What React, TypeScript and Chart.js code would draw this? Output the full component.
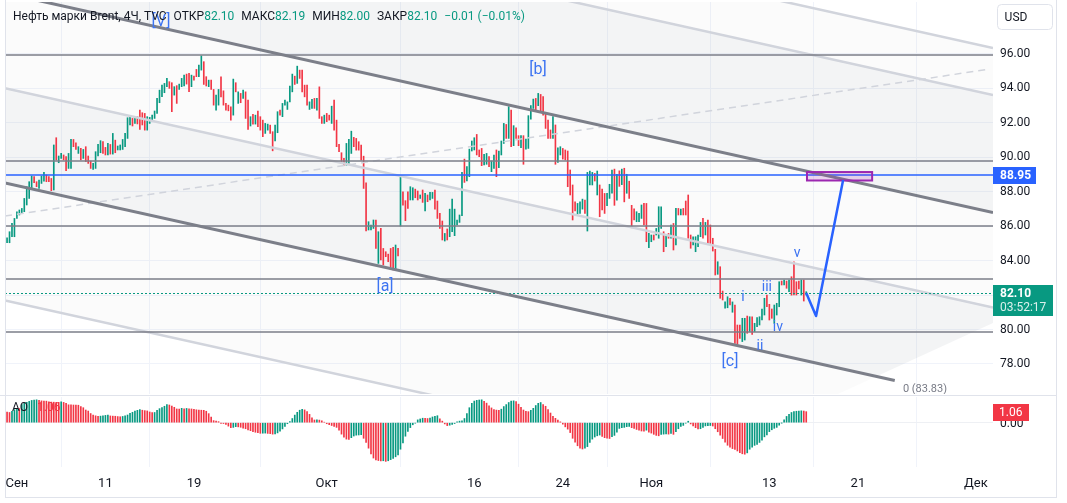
import React, { useEffect, useRef } from "react";
import { Chart, registerables } from "chart.js";

Chart.register(...registerables);

// ---------- DATA (4H bars, Brent) ----------
const barHigh = [
  85.32,85.67,86.15,86.44,86.83,86.93,87.02,87.6,88.28,88.57,
  88.9,88.86,88.57,88.67,88.9,89.11,88.96,88.86,88.76,90.7,
  91.12,90.06,90.21,90.12,90.02,90.21,91.02,91.02,90.83,90.6,
  90.5,90.44,90.6,90.06,89.77,89.63,90.31,90.73,90.95,90.89,
  90.56,90.79,90.73,91.37,90.98,90.64,90.7,91.02,91.37,92.28,
  92.3,92.24,92.34,92.34,92.72,92.57,92.53,92.34,92.3,92.43,
  92.67,93.4,93.88,94.17,94.27,94.56,94.37,94.31,94.08,94.14,
  94.23,94.56,94.75,94.81,94.85,94.75,94.7,95.08,95.33,95.87,
  95.53,94.66,94.46,94.46,93.92,93.59,93.92,94.65,93.84,93.11,
  93.01,92.91,94.52,94.31,93.78,93.69,93.88,93.78,93.3,92.34,
  92.47,92.43,92.66,92.34,92.14,91.95,91.91,91.85,91.47,91.85,
  92.63,92.72,93.11,93.3,93.2,94.11,94.81,94.69,95.27,95.04,
  95.04,94.17,94.17,93.2,93.34,93.4,93.4,94.07,92.34,92.43,
  92.53,92.43,92.95,93.3,92.14,90.73,90.25,89.92,90.79,91.02,
  91.5,91.14,91.08,90.89,90.69,90.05,88.51,86.25,86.06,86.35,
  86.35,85.67,85.86,84.7,84.51,84.37,84.7,84.76,84.9,84.7,
  88.9,87.99,87.47,87.99,88.28,88.22,88.14,88.03,87.8,88.09,
  87.89,87.8,87.95,87.95,88.09,87.45,86.73,86.29,85.57,85.83,
  86.98,87.56,86.98,86.35,86.64,89.11,89.88,89.44,90.46,90.93,
  91.12,91.31,90.41,90.5,90.15,90.21,90.02,89.77,90.12,90.41,
  90.35,90.93,91.95,91.89,92.92,92.72,91.82,91.7,91.24,91.24,
  91.24,91.04,92.4,92.98,93.36,93.4,93.69,93.63,93.5,92.53,
  92.15,91.57,92.34,91.86,90.54,90.6,90.5,90.41,90.35,89.25,
  88.38,87.41,87.31,87.41,87.56,87.51,89.11,89.19,89.11,89.05,
  89.19,88.38,88.14,87.89,87.89,88.42,89.25,89.3,89.0,89.2,
  89.3,89.35,89.0,88.6,87.2,87.0,86.83,86.73,87.22,87.31,
  87.31,85.57,85.48,85.48,85.86,87.12,87.12,85.67,85.52,85.57,
  86.06,86.15,87.02,87.02,86.98,87.02,87.45,87.8,85.48,85.38,
  85.38,85.48,86.21,86.44,86.21,86.35,86.06,85.29,84.65,83.93,
  83.64,82.23,81.61,81.9,81.81,81.6,81.42,80.26,80.26,80.65,
  80.65,80.78,80.74,80.74,80.36,80.69,80.74,81.19,81.81,82.0,
  81.46,81.19,81.42,81.52,82.77,82.81,82.87,82.81,82.87,83.06,
  83.93,82.77,82.81,82.87,82.87,82.19
];
const barLow = [
  85.03,85.03,85.38,85.38,86.44,86.64,86.73,86.83,87.22,87.6,
  88.18,88.51,88.28,88.18,88.47,88.6,88.57,88.57,88.05,88.09,
  89.83,89.67,89.92,89.83,89.21,89.34,89.34,90.6,90.44,90.21,
  89.83,89.92,89.73,89.63,89.34,89.28,89.34,90.06,90.25,90.21,
  90.12,90.12,90.17,90.17,90.25,90.41,90.41,90.44,90.6,91.08,
  91.86,91.8,91.95,91.92,91.6,91.86,91.56,91.56,91.95,92.14,
  92.24,92.53,93.15,93.5,93.73,94.08,93.98,92.63,93.59,93.11,
  93.92,94.08,94.12,94.23,93.79,94.08,94.46,94.66,94.66,95.04,
  94.21,94.12,94.08,93.92,93.01,92.72,93.01,93.49,93.01,92.72,
  92.68,92.14,92.43,93.78,93.11,93.15,93.4,92.24,91.6,91.8,
  91.91,91.91,91.76,91.56,91.18,91.37,91.56,91.37,90.36,90.94,
  91.41,92.43,92.34,93.01,92.76,93.2,93.78,94.21,94.27,94.56,
  93.78,93.49,93.01,92.76,92.82,92.82,92.72,92.24,91.95,91.95,
  92.05,92.14,91.95,91.56,90.6,90.31,89.63,89.53,89.53,89.63,
  90.21,90.6,90.4,90.4,89.82,88.18,85.71,85.77,85.77,85.86,
  84.7,83.83,84.03,83.74,84.22,83.93,83.64,83.45,83.45,84.26,
  86.0,87.21,86.31,87.02,87.51,87.51,87.64,87.51,87.6,87.37,
  86.87,87.41,87.51,87.6,86.98,86.44,85.86,85.19,85.13,85.19,
  85.38,85.67,85.44,86.06,86.21,86.6,88.53,88.61,88.86,90.35,
  90.41,90.12,90.02,89.5,89.54,89.58,89.44,89.15,89.34,88.86,
  89.38,90.12,90.79,91.08,91.08,90.6,90.66,91.08,90.66,90.54,
  89.58,90.46,90.5,92.2,92.82,92.67,92.98,92.63,92.43,91.66,
  91.08,91.08,91.08,89.58,89.69,90.12,89.88,89.83,88.28,87.8,
  86.35,86.87,86.68,86.73,86.98,86.73,85.71,88.38,88.38,88.61,
  87.8,86.54,86.93,86.73,87.18,87.6,87.9,87.2,87.5,88.3,
  88.4,87.4,87.9,87.6,85.9,86.35,86.25,86.25,86.44,86.06,
  85.09,84.74,85.09,85.19,85.48,85.29,85.86,84.51,84.8,85.29,
  85.29,84.61,84.9,86.64,86.64,86.64,86.64,85.29,84.71,84.9,
  84.51,84.8,85.38,85.29,85.48,84.99,84.99,84.55,83.16,83.2,
  81.81,81.71,81.23,81.26,81.42,81.0,79.2,79.14,79.49,79.3,
  79.39,79.78,79.88,79.72,79.88,80.17,80.26,80.55,80.84,81.32,
  80.55,80.65,80.36,80.84,81.32,82.58,82.58,82.39,82.19,81.99,
  82.0,82.0,82.35,82.0,81.65,82.0
];
const barUp = [
  1,1,1,1,1,1,1,1,1,1, 1,0,0,1,1,1,0,0,0,1, 0,1,1,0,0,1,1,0,0,1, 0,1,0,0,0,1,1,1,1,0,
  0,1,0,1,0,1,1,1,1,1, 1,0,1,0,0,0,0,1,1,1, 1,1,1,1,1,1,0,0,1,0, 1,1,1,0,0,1,0,0,1,1,
  0,0,1,0,0,1,1,0,0,0, 0,0,1,0,1,0,1,0,0,1, 0,1,0,0,0,1,1,0,0,1, 1,0,1,1,1,1,1,0,1,0,
  0,0,0,1,1,0,1,0,0,1, 0,0,1,0,0,0,0,0,1,1, 1,0,0,0,0,0,0,1,1,1, 0,1,0,0,0,0,0,0,1,0,
  1,0,0,0,1,1,0,0,1,0, 1,0,1,1,0,0,0,0,1,0, 1,1,1,1,1,1,0,1,1,1, 1,0,0,0,1,1,0,1,1,0,
  1,1,1,0,1,0,1,0,0,1, 0,1,1,1,1,0,1,0,0,0, 0,0,1,0,1,1,0,0,0,0, 0,0,1,1,1,0,1,1,1,0,
  1,0,0,0,1,1,1,0,1,0, 1,0,1,0,0,0,1,1,1,0, 0,1,1,0,1,1,1,0,1,0, 1,0,1,0,1,0,0,0,0,1,
  1,1,1,0,1,0,0,0,0,1, 0,0,1,1,0,1,0,0,0,1, 1,0,1,0,1,1,1,1,1,0, 0,0,1,1,1,0,1,0,1,0,
  0,0,0,1,0,1
];
const aoValues = [
  1.03,0.98,1.1,1.25,1.38,1.36,1.75,1.9,1.96,2.05,
  2.14,2.18,2.2,2.15,2.1,2.08,2.07,2.0,1.98,1.97,
  1.96,1.95,2.0,1.95,1.85,1.72,1.71,1.7,1.69,1.68,
  1.55,1.44,1.22,1.12,0.88,0.73,0.66,0.6,0.63,0.67,
  0.7,0.72,0.65,0.63,0.62,0.59,0.57,0.6,0.66,0.74,
  0.9,1.0,1.12,1.19,1.25,1.2,1.16,1.13,1.03,0.97,
  0.98,1.18,1.35,1.45,1.58,1.74,1.7,1.6,1.48,1.32,
  1.31,1.38,1.33,1.37,1.33,1.32,1.29,1.24,1.21,1.2,
  1.19,1.1,0.87,0.55,0.2,0.15,0.1,-0.06,-0.08,-0.16,
  -0.33,-0.48,-0.45,-0.38,-0.4,-0.44,-0.52,-0.58,-0.7,-0.77,
  -0.86,-0.92,-0.96,-1.02,-1.01,-1.0,-1.03,-1.05,-1.1,-1.08,
  -0.98,-0.82,-0.6,-0.36,-0.1,0.1,0.4,0.73,1.0,1.2,
  1.28,1.23,1.06,0.8,0.46,0.26,0.27,0.25,0.18,0.05,
  -0.1,-0.19,-0.27,-0.35,-0.45,-0.72,-1.1,-1.4,-1.58,-1.62,
  -1.44,-1.28,-1.2,-1.18,-1.14,-1.5,-1.9,-2.45,-3.0,-3.4,
  -3.58,-3.64,-3.68,-3.66,-3.72,-3.66,-3.55,-3.44,-3.28,-3.1,
  -2.55,-1.95,-1.3,-0.85,-0.47,-0.2,-0.04,0.27,0.36,0.43,
  0.41,0.4,0.45,0.55,0.6,0.67,0.38,0.15,-0.12,-0.28,
  -0.24,-0.17,-0.08,0.08,0.15,0.17,0.4,0.88,1.44,1.86,
  2.08,2.15,2.18,2.2,2.05,1.88,1.62,1.42,1.27,1.21,
  1.19,1.3,1.55,1.74,1.94,2.08,2.1,2.04,1.78,1.48,
  1.22,1.1,1.06,1.2,1.38,1.65,1.86,1.94,1.75,1.58,
  1.26,0.93,0.6,0.42,0.25,0.08,-0.14,-0.4,-0.62,-0.95,
  -1.5,-1.88,-2.22,-2.45,-2.53,-2.44,-2.3,-1.9,-1.58,-1.38,
  -1.26,-1.19,-1.33,-1.44,-1.5,-1.52,-1.35,-1.22,-0.9,-0.55,
  -0.48,-0.45,-0.38,-0.36,-0.48,-0.56,-0.65,-0.72,-0.8,-0.82,
  -0.72,-0.9,-1.0,-1.12,-1.22,-1.26,-1.12,-1.1,-1.08,-1.1,
  -1.03,-1.12,-0.87,-0.58,-0.36,-0.26,-0.04,0.14,-0.12,-0.3,
  -0.48,-0.6,-0.58,-0.45,-0.31,-0.28,-0.27,-0.32,-0.58,-0.87,
  -1.2,-1.52,-1.87,-2.17,-2.35,-2.49,-2.58,-2.72,-2.89,-2.99,
  -3.03,-2.9,-2.55,-2.36,-2.18,-2.09,-1.9,-1.68,-1.36,-1.18,
  -0.86,-0.68,-0.54,-0.45,-0.24,-0.02,0.28,0.6,0.8,0.98,
  1.08,1.1,1.12,1.14,1.12,1.06
];
const aoBefore = 1.08;

const tickBars = [4, 40, 76, 130, 190, 226, 262, 310, 346, 394];
const tickLabels = ["Сен", "11", "19", "Окт", "16", "24", "Ноя", "13", "21", "Дек"];
const priceTicks = [78, 80, 82, 84, 86, 88, 90, 92, 94, 96];

const levelPrices = [95.93, 89.77, 86.0, 82.91, 79.86];
const targetPrice = 88.95;
const lastPrice = 82.1;
const lastAO = 1.06;
const countdown = "03:52:17";

const channelAnchorBar = 200.5;
const channelAnchorPrice = 93.13;
const channelSlope = -0.03165;
const channelWidth = 11.01;
const channelEndBar = 361;
const channelLabel = "0 (83.83)";
const fillCutBars = [337.9, 401];
const fillCutPrices = [76.26, 80.38];

const dashedBars = [-0.84, 399.7];
const dashedPrices = [86.58, 95.1];

const boxBars = [325.3, 351.8];
const boxPrices = [89.13, 88.64];

const pathBars = [325, 329, 340];
const pathPrices = [82.12, 80.78, 88.67];

const waveTexts = ["[V]", "[b]", "[a]", "[c]", "i", "ii", "iii", "iv", "v"];
const waveBars = [62.6, 215.9, 153.7, 294, 299.3, 306.2, 309, 313.5, 321.3];
const wavePrices = [97.83, 95.04, 82.46, 78.12, 81.83, 78.99, 82.46, 80.09, 84.43];
const waveSizes = [16, 16, 16, 16, 14, 14, 14, 14, 14];

const xMin = -0.84, xMax = 400.95;
const yMin = 76.26, yMax = 98.99;
const aoMin = -4.26, aoMax = 2.47;

// ---------- STYLE ----------
const GREEN = "#089981";
const RED = "#f23645";
const BLUE = "#2962ff";
const WAVE = "#3d74f2";
const GRID = "#f0f3fa";
const TEXT = "#131722";
const FONT = 'Roboto, "Liberation Sans", Arial, sans-serif';
const BORDER = "#e0e3eb";

const chanPrice = (bar: number, k: number) =>
  channelAnchorPrice + channelSlope * (bar - channelAnchorBar) - k * channelWidth;

function roundRect(ctx: CanvasRenderingContext2D, x: number, y: number, w: number, h: number, r: number) {
  ctx.beginPath();
  ctx.moveTo(x + r, y);
  ctx.lineTo(x + w - r, y);
  ctx.quadraticCurveTo(x + w, y, x + w, y + r);
  ctx.lineTo(x + w, y + h - r);
  ctx.quadraticCurveTo(x + w, y + h, x + w - r, y + h);
  ctx.lineTo(x + r, y + h);
  ctx.quadraticCurveTo(x, y + h, x, y + h - r);
  ctx.lineTo(x, y + r);
  ctx.quadraticCurveTo(x, y, x + r, y);
  ctx.closePath();
}

const mainOverlay = {
  id: "mainOverlay",
  beforeDatasetsDraw(chart: any) {
    const { ctx, chartArea: a, scales } = chart;
    const X = (b: number) => scales.x.getPixelForValue(b);
    const Y = (p: number) => scales.y.getPixelForValue(p);
    ctx.save();
    // clip to chart area minus the lower-right corner where the channel fill stops
    ctx.beginPath();
    ctx.moveTo(a.left, a.top);
    ctx.lineTo(a.right, a.top);
    ctx.lineTo(a.right, Y(fillCutPrices[1]));
    ctx.lineTo(X(fillCutBars[0]), Y(fillCutPrices[0]));
    ctx.lineTo(a.left, a.bottom);
    ctx.closePath();
    ctx.clip();
    const bands: [number, number, string][] = [
      [-0.866, -0.618, "rgba(120,123,134,0.03)"],
      [-0.618, 0, "rgba(120,123,134,0.085)"],
      [0, 0.5, "rgba(120,123,134,0.03)"],
      [0.5, 1, "rgba(120,123,134,0.085)"],
      [1, 1.618, "rgba(120,123,134,0.03)"],
    ];
    for (const [k1, k2, c] of bands) {
      ctx.beginPath();
      ctx.moveTo(X(xMin), Y(chanPrice(xMin, k1)));
      ctx.lineTo(X(xMax), Y(chanPrice(xMax, k1)));
      ctx.lineTo(X(xMax), Y(chanPrice(xMax, k2)));
      ctx.lineTo(X(xMin), Y(chanPrice(xMin, k2)));
      ctx.closePath();
      ctx.fillStyle = c;
      ctx.fill();
    }
    ctx.restore();
  },
  afterDatasetsDraw(chart: any) {
    const { ctx, chartArea: a, scales } = chart;
    const X = (b: number) => scales.x.getPixelForValue(b);
    const Y = (p: number) => scales.y.getPixelForValue(p);
    ctx.save();
    ctx.beginPath();
    ctx.rect(a.left, a.top, a.right - a.left, a.bottom - a.top);
    ctx.clip();

    // light channel lines
    ctx.strokeStyle = "#d1d4dc";
    ctx.lineWidth = 2.5;
    for (const k of [-0.866, -0.618, 0.5, 1.618]) {
      ctx.beginPath();
      ctx.moveTo(X(xMin), Y(chanPrice(xMin, k)));
      ctx.lineTo(X(xMax), Y(chanPrice(xMax, k)));
      ctx.stroke();
    }
    // dashed line
    ctx.setLineDash([7, 5]);
    ctx.lineWidth = 1.5;
    ctx.beginPath();
    ctx.moveTo(X(dashedBars[0]), Y(dashedPrices[0]));
    ctx.lineTo(X(dashedBars[1]), Y(dashedPrices[1]));
    ctx.stroke();
    ctx.setLineDash([]);

    // horizontal levels
    ctx.strokeStyle = "#7b7e88";
    ctx.lineWidth = 1.6;
    for (const p of levelPrices) {
      const y = Math.round(Y(p));
      ctx.beginPath();
      ctx.moveTo(a.left, y);
      ctx.lineTo(a.right, y);
      ctx.stroke();
    }
    // target line
    ctx.strokeStyle = BLUE;
    ctx.lineWidth = 1.5;
    let y = Math.round(Y(targetPrice));
    ctx.beginPath();
    ctx.moveTo(a.left, y);
    ctx.lineTo(a.right, y);
    ctx.stroke();
    // last price dotted
    ctx.strokeStyle = GREEN;
    ctx.lineWidth = 1;
    ctx.setLineDash([2, 2]);
    y = Math.round(Y(lastPrice)) + 0.5;
    ctx.beginPath();
    ctx.moveTo(a.left, y);
    ctx.lineTo(a.right, y);
    ctx.stroke();
    ctx.setLineDash([]);

    // dark channel lines
    ctx.strokeStyle = "#7c7f89";
    ctx.lineWidth = 3;
    ctx.beginPath();
    ctx.moveTo(X(xMin), Y(chanPrice(xMin, 0)));
    ctx.lineTo(X(xMax), Y(chanPrice(xMax, 0)));
    ctx.stroke();
    ctx.beginPath();
    ctx.moveTo(X(xMin), Y(chanPrice(xMin, 1)));
    ctx.lineTo(X(channelEndBar), Y(chanPrice(channelEndBar, 1)));
    ctx.stroke();

    // target box
    const bx0 = X(boxBars[0]), bx1 = X(boxBars[1]);
    const by0 = Y(boxPrices[0]), by1 = Y(boxPrices[1]);
    ctx.fillStyle = "rgba(156,39,176,0.18)";
    ctx.fillRect(bx0, by0, bx1 - bx0, by1 - by0);
    ctx.strokeStyle = "#9c27b0";
    ctx.lineWidth = 2;
    ctx.strokeRect(bx0, by0, bx1 - bx0, by1 - by0);

    // projection path
    ctx.strokeStyle = BLUE;
    ctx.lineWidth = 2.5;
    ctx.lineJoin = "round";
    ctx.beginPath();
    pathBars.forEach((b, i) => {
      if (i === 0) ctx.moveTo(X(b), Y(pathPrices[i]));
      else ctx.lineTo(X(b), Y(pathPrices[i]));
    });
    ctx.stroke();

    // wave labels
    ctx.fillStyle = WAVE;
    ctx.textAlign = "center";
    ctx.textBaseline = "middle";
    waveTexts.forEach((t, i) => {
      ctx.font = `${waveSizes[i]}px ${FONT}`;
      ctx.fillText(t, X(waveBars[i]), Y(wavePrices[i]));
    });

    // channel label
    ctx.fillStyle = "#787b86";
    ctx.font = `11px ${FONT}`;
    ctx.textAlign = "left";
    ctx.fillText(channelLabel, X(364.3), Y(76.55));
    ctx.restore();
  },
  afterDraw(chart: any) {
    const { ctx, chartArea: a, scales } = chart;
    const Y = (p: number) => scales.y.getPixelForValue(p);
    ctx.save();
    ctx.textBaseline = "middle";
    ctx.textAlign = "left";
    // target tag
    let y = Math.round(Y(targetPrice));
    ctx.fillStyle = BLUE;
    ctx.fillRect(a.right, y - 8, 43, 17);
    ctx.fillStyle = "#fff";
    ctx.font = `bold 12px ${FONT}`;
    ctx.fillText(targetPrice.toFixed(2), a.right + 7, y + 0.5);
    // last price tag
    y = Math.round(Y(lastPrice));
    ctx.fillStyle = GREEN;
    ctx.fillRect(a.right, y - 8, 60, 31);
    ctx.fillStyle = "#fff";
    ctx.font = `bold 12px ${FONT}`;
    ctx.fillText(lastPrice.toFixed(2), a.right + 7, y + 1);
    ctx.fillStyle = "rgba(255,255,255,0.85)";
    ctx.font = `12px ${FONT}`;
    ctx.fillText(countdown, a.right + 7, y + 15);
    // USD box
    ctx.strokeStyle = BORDER;
    ctx.lineWidth = 1;
    roundRect(ctx, 997.5, 4.5, 55, 25, 4);
    ctx.fillStyle = "#fff";
    ctx.fill();
    ctx.stroke();
    ctx.fillStyle = TEXT;
    ctx.font = `12px ${FONT}`;
    ctx.textAlign = "center";
    ctx.fillText("USD", 1016, 17.5);
    // frame
    ctx.strokeStyle = BORDER;
    ctx.beginPath();
    ctx.moveTo(5.5, 0);
    ctx.lineTo(5.5, chart.height);
    ctx.moveTo(1056.5, 0);
    ctx.lineTo(1056.5, chart.height);
    ctx.moveTo(5, chart.height - 0.5);
    ctx.lineTo(1057, chart.height - 0.5);
    ctx.stroke();
    ctx.restore();
  },
};

const aoOverlay = {
  id: "aoOverlay",
  afterDraw(chart: any) {
    const { ctx, chartArea: a, scales } = chart;
    const Y = (v: number) => scales.y.getPixelForValue(v);
    ctx.save();
    ctx.textBaseline = "middle";
    ctx.textAlign = "left";
    ctx.fillStyle = TEXT;
    ctx.font = `12px ${FONT}`;
    ctx.fillText("0.00", a.right + 7, Y(0) + 1);
    const y = Math.round(Y(lastAO));
    ctx.fillStyle = RED;
    ctx.fillRect(a.right, y - 8, 36, 17);
    ctx.fillStyle = "#fff";
    ctx.fillText(lastAO.toFixed(2), a.right + 6, y + 0.5);
    ctx.fillStyle = TEXT;
    ctx.fillText("AO", 12, 12);
    ctx.fillStyle = RED;
    ctx.fillText(lastAO.toFixed(2), 37, 12);
    ctx.strokeStyle = BORDER;
    ctx.lineWidth = 1;
    ctx.beginPath();
    ctx.moveTo(5.5, 0);
    ctx.lineTo(5.5, 101);
    ctx.moveTo(1056.5, 0);
    ctx.lineTo(1056.5, 101);
    ctx.moveTo(5, 101.5);
    ctx.lineTo(1057, 101.5);
    ctx.stroke();
    ctx.restore();
  },
};

export default function App() {
  const mainRef = useRef<HTMLCanvasElement>(null);
  const aoRef = useRef<HTMLCanvasElement>(null);

  useEffect(() => {
    const main = new Chart(mainRef.current as HTMLCanvasElement, {
      type: "bar",
      data: {
        datasets: [
          {
            data: barHigh.map((h, i) => ({ x: i, y: [barLow[i], h] })) as any,
            backgroundColor: barUp.map((u) => (u ? GREEN : RED)),
            barThickness: 1,
            minBarLength: 1,
            grouped: false,
          } as any,
        ],
      },
      options: {
        animation: false,
        responsive: false,
        events: [],
        layout: { padding: { left: 5, top: 2, right: 0, bottom: 2 } },
        plugins: { legend: { display: false }, tooltip: { enabled: false } },
        scales: {
          x: {
            type: "linear",
            min: xMin,
            max: xMax,
            offset: false,
            grid: { color: GRID, drawTicks: false },
            border: { display: false },
            ticks: { display: false },
            afterBuildTicks: (s: any) => {
              s.ticks = tickBars.map((v) => ({ value: v }));
            },
            afterFit: (s: any) => {
              s.height = 0;
              s.paddingLeft = 0;
              s.paddingRight = 0;
            },
          } as any,
          y: {
            position: "right",
            min: yMin,
            max: yMax,
            grid: { color: GRID, drawTicks: false },
            border: { display: false },
            ticks: {
              color: TEXT,
              font: { size: 12, family: FONT },
              padding: 7,
              callback: (v: any) => Number(v).toFixed(2),
            },
            afterBuildTicks: (s: any) => {
              s.ticks = priceTicks.map((v) => ({ value: v }));
            },
            afterFit: (s: any) => {
              s.width = 74;
              s.paddingTop = 0;
              s.paddingBottom = 0;
            },
          } as any,
        },
      },
      plugins: [mainOverlay],
    });

    const ao = new Chart(aoRef.current as HTMLCanvasElement, {
      type: "bar",
      data: {
        datasets: [
          {
            data: aoValues.map((v, i) => ({ x: i, y: v })) as any,
            backgroundColor: aoValues.map((v, i) =>
              v >= (i === 0 ? aoBefore : aoValues[i - 1]) ? GREEN : RED
            ),
            barThickness: 1,
            grouped: false,
          } as any,
        ],
      },
      options: {
        animation: false,
        responsive: false,
        events: [],
        layout: { padding: { left: 5, top: 1, right: 0, bottom: 0 } },
        plugins: { legend: { display: false }, tooltip: { enabled: false } },
        scales: {
          x: {
            type: "linear",
            min: xMin,
            max: xMax,
            offset: false,
            grid: { color: GRID, drawTicks: false },
            border: { display: false },
            ticks: {
              color: TEXT,
              font: { size: 13, family: FONT },
              padding: 9,
              maxRotation: 0,
              autoSkip: false,
              callback: (v: any) => {
                const k = tickBars.indexOf(Number(v));
                return k >= 0 ? tickLabels[k] : "";
              },
            },
            afterBuildTicks: (s: any) => {
              s.ticks = tickBars.map((v) => ({ value: v }));
            },
            afterFit: (s: any) => {
              s.height = 36;
              s.paddingLeft = 0;
              s.paddingRight = 0;
            },
          } as any,
          y: {
            position: "right",
            min: aoMin,
            max: aoMax,
            grid: { color: "#eef0f4", drawTicks: false },
            border: { display: false },
            ticks: { display: false },
            afterBuildTicks: (s: any) => {
              s.ticks = [{ value: 0 }];
            },
            afterFit: (s: any) => {
              s.width = 74;
              s.paddingTop = 0;
              s.paddingBottom = 0;
            },
          } as any,
        },
      },
      plugins: [aoOverlay],
    });

    return () => {
      main.destroy();
      ao.destroy();
    };
  }, []);

  return (
    <div style={{ position: "fixed", left: 0, top: 0, width: 1067, height: 503, background: "#fff", overflow: "hidden" }}>
      <canvas ref={mainRef} width={1067} height={396} style={{ position: "absolute", left: 0, top: 0, width: 1067, height: 396 }} />
      <canvas ref={aoRef} width={1067} height={107} style={{ position: "absolute", left: 0, top: 396, width: 1067, height: 107 }} />
      <div style={{ position: "absolute", left: 0, top: 395, width: 1057, height: 1, background: BORDER }} />
      <div
        style={{
          position: "absolute",
          left: 13,
          top: 7,
          font: `12px ${FONT}`,
          color: TEXT,
          whiteSpace: "nowrap",
          lineHeight: "18px",
        }}
      >
        <span>Нефть марки Brent, 4Ч, TVC</span>
        <span style={{ marginLeft: 7 }}>ОТКР</span>
        <span style={{ color: GREEN }}>82.10</span>
        <span style={{ marginLeft: 7 }}>МАКС</span>
        <span style={{ color: GREEN }}>82.19</span>
        <span style={{ marginLeft: 7 }}>МИН</span>
        <span style={{ color: GREEN }}>82.00</span>
        <span style={{ marginLeft: 7 }}>ЗАКР</span>
        <span style={{ color: GREEN }}>82.10</span>
        <span style={{ color: GREEN, marginLeft: 7 }}>−0.01 (−0.01%)</span>
      </div>
    </div>
  );
}
